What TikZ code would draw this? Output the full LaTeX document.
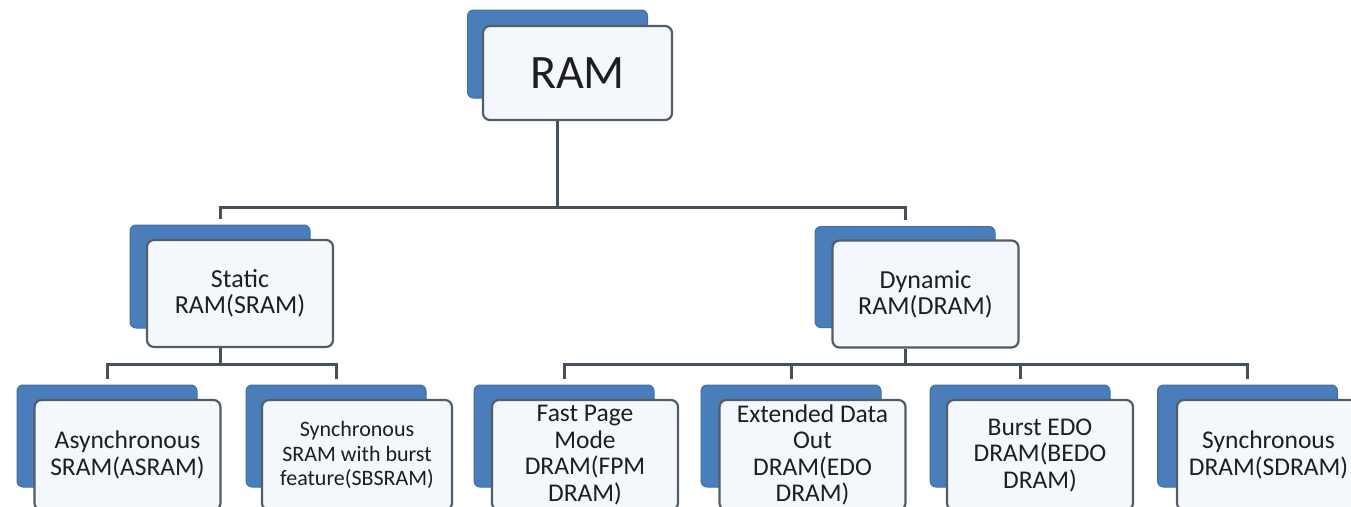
\documentclass[tikz,border=0pt]{standalone}
\usepackage{fontspec}
\setmainfont{Carlito}
\definecolor{backblue}{HTML}{4A7EBB}
\definecolor{backedge}{HTML}{3F6EA6}
\definecolor{frontfill}{HTML}{F4F7FB}
\definecolor{frontedge}{HTML}{535D68}
\definecolor{connc}{HTML}{46505A}
\definecolor{txt}{HTML}{1E1E1E}
\tikzset{
  backbox/.style={draw=backedge, line width=1pt, fill=backblue, rounded corners=6pt, minimum width=180pt, inner sep=0pt},
  frontbox/.style={draw=frontedge, line width=2.2pt, fill=frontfill, rounded corners=7pt, align=center, text=txt, inner sep=2pt},
  lvlzero/.style={minimum width=189pt, minimum height=94pt, font=\fontsize{48}{52}\selectfont},
  lvlone/.style={minimum width=186pt, minimum height=107pt, font=\fontsize{26}{26}\selectfont},
  lvltwo/.style={minimum width=186pt, minimum height=110pt, font=\fontsize{25.5}{26.5}\selectfont},
  conn/.style={draw=connc, line width=3pt, shorten >=6pt}
}
\begin{document}
\begin{tikzpicture}[x=1pt, y=-1pt]
\useasboundingbox (0,0) rectangle (1351,506);
\clip (0,0) rectangle (1351,506);
\fill[white] (0,0) rectangle (1351,506);

\coordinate (busA) at (0,207);
\coordinate (busB) at (0,364);

% level 0
\node[backbox, minimum height=88pt] (ramb) at (557.5,54) {};
\node[frontbox, lvlzero] (ram) at (577.5,73) {RAM};

% level 1
\node[backbox, minimum height=103pt] (sramb) at (220,276.5) {};
\node[frontbox, lvlone] (sram) at (240,293.5) {Static\\RAM(SRAM)};
\node[backbox, minimum height=101pt] (dramb) at (905,277) {};
\node[frontbox, lvlone] (dram) at (925.5,294) {Dynamic\\RAM(DRAM)};

% level 2
\node[backbox, minimum height=102pt] (asramb) at (107,436) {};
\node[frontbox, lvltwo] (asram) at (127.5,455) {Asynchronous\\SRAM(ASRAM)};
\node[backbox, minimum height=102pt] (sbsramb) at (336,436) {};
\node[frontbox, lvltwo, minimum width=190pt, font=\fontsize{22}{24.5}\selectfont] (sbsram) at (357,455) {Synchronous\\SRAM with burst\\feature(SBSRAM)};
\node[backbox, minimum height=102pt] (fpmb) at (564,436) {};
\node[frontbox, lvltwo] (fpm) at (585,455) {Fast Page\\Mode\\DRAM(FPM\\DRAM)};
\node[backbox, minimum height=102pt] (edob) at (791,436) {};
\node[frontbox, lvltwo] (edo) at (812.5,455) {Extended Data\\Out\\DRAM(EDO\\DRAM)};
\node[backbox, minimum height=102pt] (bedob) at (1020,436) {};
\node[frontbox, lvltwo] (bedo) at (1040,455) {Burst EDO\\DRAM(BEDO\\DRAM)};
\node[backbox, minimum height=102pt] (sdramb) at (1247.5,436) {};
\node[frontbox, lvltwo, minimum width=183pt] (sdram) at (1268.5,455) {Synchronous\\DRAM(SDRAM)};

% connectors
\draw[conn] (ramb |- ram.south) -- (ramb |- busA) -| (sramb.north);
\draw[conn] (ramb |- busA) -| (dramb.north);

\draw[conn] (sramb |- sram.south) -- (sramb |- busB) -| (asramb.north);
\draw[conn] (sramb |- busB) -| (sbsramb.north);

\draw[conn] (dramb |- dram.south) -- (dramb |- busB) -| (fpmb.north);
\draw[conn] (dramb |- busB) -| (edob.north);
\draw[conn] (dramb |- busB) -| (bedob.north);
\draw[conn] (dramb |- busB) -| (sdramb.north);
\end{tikzpicture}
\end{document}
